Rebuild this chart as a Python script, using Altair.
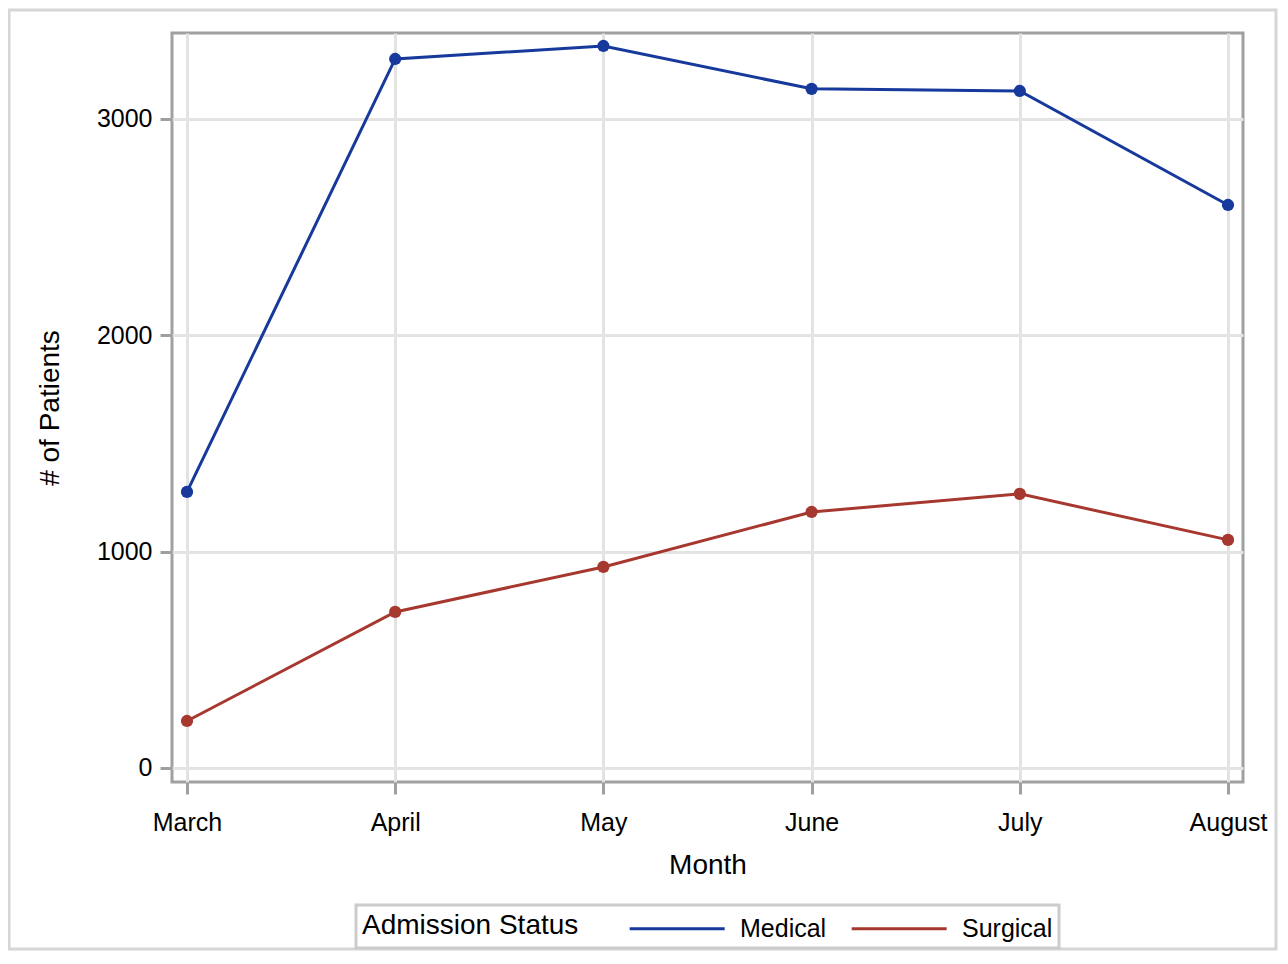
import altair as alt
import pandas as pd

months = ["March", "April", "May", "June", "July", "August"]
medical = [1276, 3277, 3337, 3139, 3129, 2602]
surgical = [217, 721, 929, 1183, 1267, 1054]
statuses = ["Medical", "Surgical"]
colors = ["#16399B", "#A7382F"]
y_ticks = [0, 1000, 2000, 3000]

rows = []
for m, a, b in zip(months, medical, surgical):
    rows.append({"Month": m, "Status": "Medical", "Patients": a})
    rows.append({"Month": m, "Status": "Surgical", "Patients": b})
df = pd.DataFrame(rows)

FONT = "Liberation Sans"

x_enc = alt.X(
    "Month:N", sort=months,
    scale=alt.Scale(type="point", padding=0.072),
    axis=alt.Axis(title="Month", labelAngle=0, labelFontSize=25, titleFontSize=28,
                  titleFontWeight="normal", labelPadding=16, titlePadding=16,
                  tickSize=12, tickWidth=3, tickColor="#a0a0a0", grid=True,
                  gridColor="#e3e3e3", gridWidth=3, domain=False),
)
y_enc = alt.Y(
    "Patients:Q",
    scale=alt.Scale(domain=[-65, 3397], nice=False, zero=False),
    axis=alt.Axis(title="# of Patients", values=y_ticks, format="d", labelFontSize=25,
                  titleFontSize=28, titleFontWeight="normal", labelPadding=8, titlePadding=32,
                  tickSize=12, tickWidth=3, tickColor="#a0a0a0", grid=True,
                  gridColor="#e3e3e3", gridWidth=3, domain=False),
)
# custom stroke symbol: nominal box 32px, line drawn 95px long from the box's left edge
color_enc = alt.Color(
    "Status:N",
    scale=alt.Scale(domain=statuses, range=colors),
    legend=alt.Legend(title="Admission Status", orient="none", legendX=184, legendY=872,
                      direction="horizontal", titleOrient="left", titleLimit=500,
                      titleBaseline="middle",
                      symbolType="M-1,0H5", symbolSize=1003, symbolStrokeWidth=3,
                      labelOffset=77, columnPadding=18, titlePadding=49, titleFontSize=28,
                      titleFontWeight="normal", labelFontSize=25, padding=6,
                      strokeColor="#cccccc", fillColor="white"),
)

lines = alt.Chart(df).mark_line(strokeWidth=3).encode(x=x_enc, y=y_enc, color=color_enc)
points = alt.Chart(df).mark_circle(size=150, opacity=1).encode(
    x=alt.X("Month:N", sort=months), y="Patients:Q",
    color=alt.Color("Status:N", legend=None))

frame = alt.Chart(pd.DataFrame({"a": [0]})).mark_rect(
    fill=None, stroke="#d6d6d6", strokeWidth=3).encode(
    x=alt.value(-163), x2=alt.value(1104), y=alt.value(-23), y2=alt.value(916))

chart = alt.layer(frame, lines, points).properties(
    width=1071, height=749,
    autosize=alt.AutoSizeParams(type="none"),
    padding={"left": 164, "top": 25, "right": 36, "bottom": 170},
).configure(font=FONT).configure_view(
    stroke="#a0a0a0", strokeWidth=3
).configure_axis(labelColor="black", titleColor="black", labelFont=FONT, titleFont=FONT
).configure_legend(labelFont=FONT, titleFont=FONT, labelColor="black", titleColor="black",
                   strokeWidth=3)

chart.save("out.html", embed_options={"renderer": "svg", "actions": False})
